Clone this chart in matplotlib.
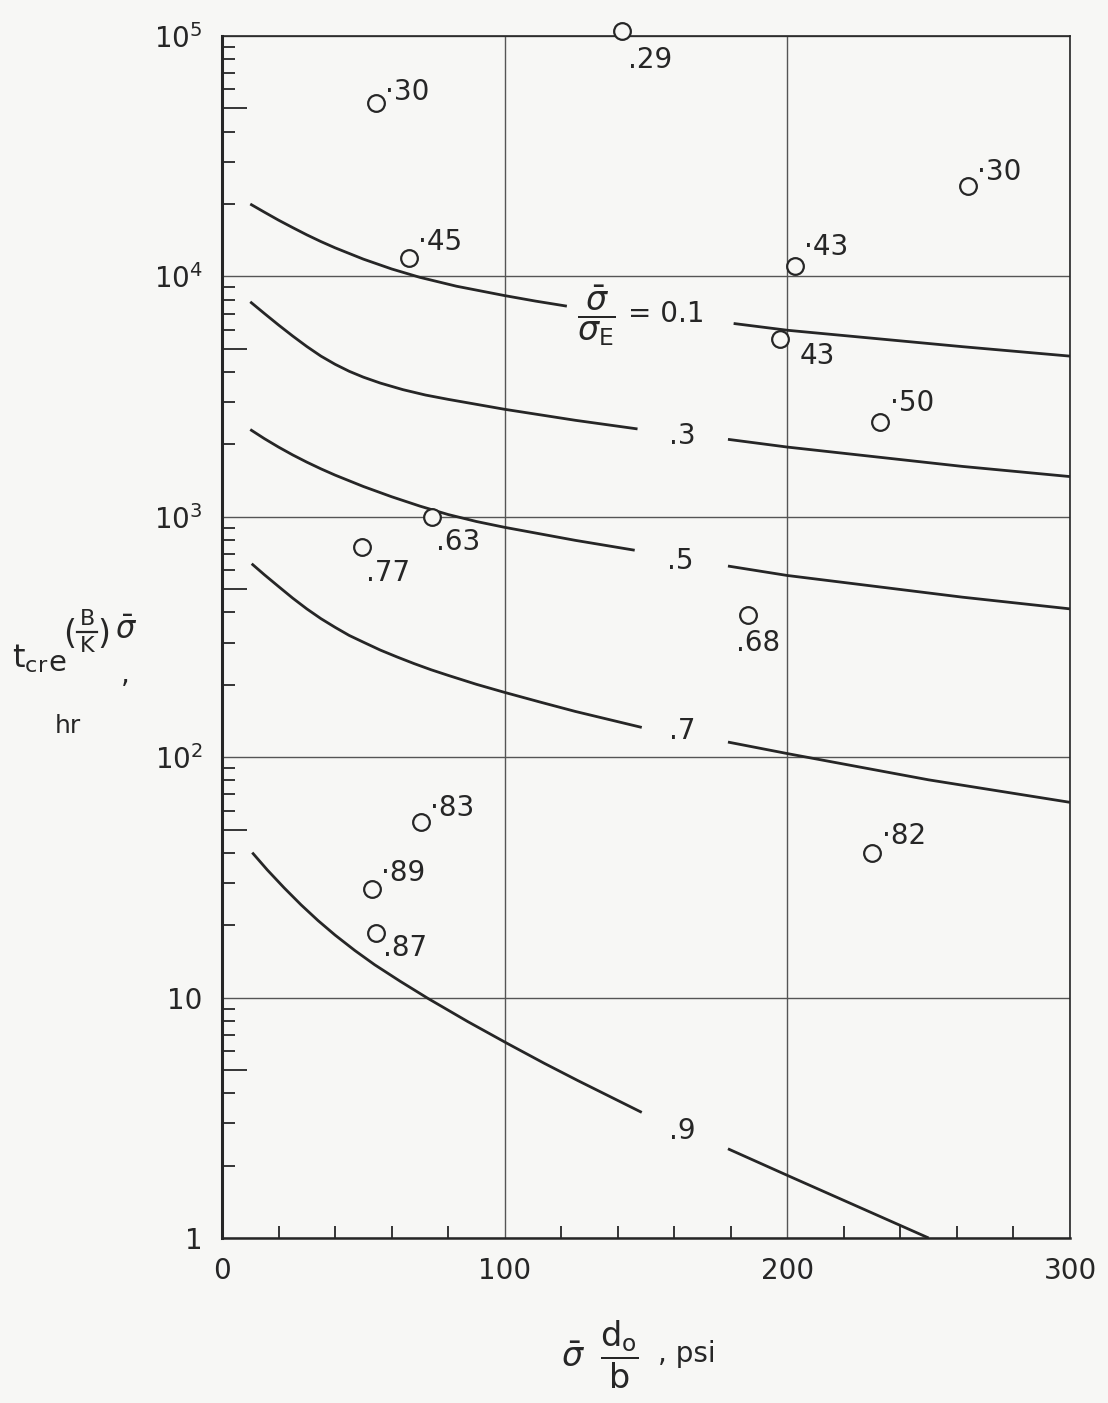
import matplotlib
matplotlib.use('Agg')
import matplotlib.pyplot as plt
import matplotlib.ticker as mticker
from matplotlib.lines import Line2D

W, H, DPI = 1108, 1403, 100

# ---- data ----
# curves for sigma/sigma_E levels (each broken where its label sits)
c01_left_x = [10, 15, 20, 25, 30, 35, 40, 50, 60, 70, 83, 100, 111, 122]
c01_left_y = [2.0e4, 1.85e4, 1.714e4, 1.596e4, 1.489e4, 1.396e4, 1.315e4, 1.18e4, 1.074e4,
              9.91e3, 9.1e3, 8.32e3, 7.89e3, 7.52e3]
c01_right_x = [181, 200, 262, 300]
c01_right_y = [6.37e3, 5.97e3, 5.1e3, 4.66e3]

c03_left_x = [10, 15, 20, 25, 30, 35, 40, 45, 50, 56, 64, 72, 80, 100, 125, 147]
c03_left_y = [7.84e3, 7.01e3, 6.28e3, 5.65e3, 5.11e3, 4.66e3, 4.31e3, 4.03e3, 3.81e3, 3.60e3,
              3.38e3, 3.21e3, 3.08e3, 2.80e3, 2.52e3, 2.32e3]
c03_right_x = [179, 200, 262, 300]
c03_right_y = [2.1e3, 1.95e3, 1.62e3, 1.47e3]

c05_left_x = [10, 15, 20, 25, 30, 35, 40, 50, 60, 70, 80, 90, 100, 125, 146]
c05_left_y = [2307, 2114, 1950, 1809, 1688, 1583, 1491, 1337, 1212, 1108, 1022, 956, 904, 798, 726]
c05_right_x = [179, 200, 262, 300]
c05_right_y = [624, 570, 463, 414]

c07_left_x = [10.5, 15, 20, 25, 30, 35, 40, 45, 50, 56, 62, 68, 74, 80, 90, 100, 113, 125, 148.5]
c07_left_y = [638, 574, 513, 459, 414, 377, 347, 321, 301, 279, 261, 245, 231, 219, 201, 186,
              169, 155, 133]
c07_right_x = [179, 201, 250, 300]
c07_right_y = [115.6, 103, 80.5, 64.9]

c09_left_x = [10.7, 16, 22, 28, 34, 40, 47, 54, 63, 73, 87, 101, 114, 126, 148.5]
c09_left_y = [40.1, 34.0, 28.6, 24.3, 20.9, 18.2, 15.7, 13.7, 11.7, 9.9, 7.94, 6.44, 5.33, 4.51, 3.33]
c09_right_x = [179, 201, 250]
c09_right_y = [2.35, 1.8, 1.0]

curve_labels = [".3", ".5", ".7", ".9"]

# test points
pts_x = [141.5, 54.5, 264, 66, 202.7, 197.4, 232.8, 74.3, 49.5, 186, 70.4, 53, 54.5, 230]
pts_y = [1.05e5, 5.25e4, 2.37e4, 1.19e4, 1.11e4, 5.5e3, 2.49e3, 1.0e3, 750, 389, 53.7, 28.2, 18.5, 39.8]
pts_lab = ['.29', '\u00b730', '\u00b730', '\u00b745', '\u00b743', '43', '\u00b750',
           '.63', '.77', '.68', '\u00b783', '\u00b789', '.87', '\u00b782']

x_ticks = [0, 100, 200, 300]
y_ticks = [1, 10, 100, 1e3, 1e4, 1e5]
y_ticklabels = ['1', '10', r'$\mathregular{10^2}$', r'$\mathregular{10^3}$',
                r'$\mathregular{10^4}$', r'$\mathregular{10^5}$']

# ---- styling ----
plt.rcParams['font.family'] = ['DejaVu Sans']
plt.rcParams['mathtext.fontset'] = 'dejavusans'
INK = '#262626'
BG = '#f7f7f5'

fig = plt.figure(figsize=(W / DPI, H / DPI), dpi=DPI, facecolor=BG)
ax = fig.add_axes([222 / W, 1 - 1238 / H, (1070 - 222) / W, (1238 - 36) / H])
ax.set_facecolor(BG)
ax.set_yscale('log')
ax.set_xlim(0, 300)
ax.set_ylim(1, 1e5)

ax.grid(True, which='major', color='#555555', lw=1.0)
ax.set_axisbelow(True)

curves = [
    (c01_left_x, c01_left_y, c01_right_x, c01_right_y),
    (c03_left_x, c03_left_y, c03_right_x, c03_right_y),
    (c05_left_x, c05_left_y, c05_right_x, c05_right_y),
    (c07_left_x, c07_left_y, c07_right_x, c07_right_y),
    (c09_left_x, c09_left_y, c09_right_x, c09_right_y),
]
for lx, ly, rx, ry in curves:
    ax.plot(lx, ly, color=INK, lw=2.0, solid_capstyle='butt', solid_joinstyle='round', zorder=3)
    ax.plot(rx, ry, color=INK, lw=2.0, solid_capstyle='butt', solid_joinstyle='round', zorder=3)

# curve labels
ax.text(132.6, 6.9e3, r"$\dfrac{\bar{\sigma}}{\sigma_{\mathregular{E}}}$", ha='center', va='center',
        fontsize=24, color=INK, zorder=4)
ax.text(143.5, 6.95e3, "= 0.1", ha='left', va='center', fontsize=20, color=INK, zorder=4)
lab_pos = [(163, 2.16e3), (162, 657), (163, 129), (163, 2.79)]
for (lx, ly), txt in zip(lab_pos, curve_labels):
    ax.text(lx, ly, txt, ha='center', va='center', fontsize=20, color=INK, zorder=4)

# points
ax.plot(pts_x, pts_y, 'o', ms=12, mfc=BG, mec=INK, mew=1.6, ls='none', zorder=5, clip_on=False)
offsets = [(6, -37), (9, 3), (9, 6), (9, 8), (9, 11), (20, -25), (10, 11),
           (4, -33), (4, -34), (-12, -36), (9, 6), (9, 8), (7, -23), (10, 9)]
for x, y, t, (dx, dy) in zip(pts_x, pts_y, pts_lab, offsets):
    ax.annotate(t, (x, y), xytext=(dx, dy), textcoords='offset pixels', annotation_clip=False,
                ha='left', va='baseline', fontsize=20, color=INK, zorder=6)

# ticks
ax.set_xticks(x_ticks)
ax.set_xticklabels([str(v) for v in x_ticks])
ax.set_yticks(y_ticks)
ax.set_yticklabels(y_ticklabels)
ax.tick_params(which='major', length=0, labelsize=20, colors=INK)
ax.tick_params(axis='x', which='major', pad=14)
ax.tick_params(axis='y', which='major', pad=14)
ax.set_xticks([v for v in range(20, 300, 20) if v % 100 != 0], minor=True)
ax.set_yticks([m * 10 ** k for k in range(5) for m in (2, 3, 4, 6, 7, 8, 9)], minor=True)
ax.tick_params(which='minor', direction='in', length=9, width=1.3, color=INK,
               labelleft=False, labelbottom=False)

# longer ticks at 5 x 10^k on a twin axis
ax2 = ax.twinx()
ax2.set_yscale('log')
ax2.set_ylim(1, 1e5)
ax2.yaxis.set_ticks_position('left')
ax2.set_yticks([5 * 10 ** k for k in range(5)])
ax2.set_yticklabels([])
ax2.yaxis.set_minor_locator(mticker.NullLocator())
ax2.tick_params(direction='in', length=18, width=1.3, color=INK)
for s in ax2.spines.values():
    s.set_visible(False)

for side, lw in [('left', 2.2), ('bottom', 1.8), ('top', 1.2), ('right', 1.2)]:
    ax.spines[side].set_linewidth(lw)
    ax.spines[side].set_color(INK)


def fx(px):
    return px / W


def fy(py):
    return 1 - py / H


# y axis title, built from pieces
fig.text(fx(12), fy(668), r"$\mathregular{t_{cr}}$", fontsize=23, color=INK, ha='left', va='baseline')
fig.text(fx(48), fy(671), "e", fontsize=21, color=INK, ha='left', va='baseline')
fig.text(fx(70), fy(634), "(", fontsize=24, color=INK, ha='center', va='center')
fig.text(fx(87), fy(619), "B", fontsize=16, color=INK, ha='center', va='center')
fig.text(fx(87), fy(646), "K", fontsize=16, color=INK, ha='center', va='center')
fig.add_artist(Line2D([fx(77), fx(97)], [fy(632), fy(632)], color=INK, lw=1.6))
fig.text(fx(104), fy(634), ")", fontsize=24, color=INK, ha='center', va='center')
fig.text(fx(126), fy(631), r"$\bar{\sigma}$", fontsize=22, color=INK, ha='center', va='center')
fig.text(fx(125), fy(683), ",", fontsize=20, color=INK, ha='center', va='baseline')
fig.text(fx(68), fy(733), "hr", fontsize=18, color=INK, ha='center', va='baseline')

# x axis title
fig.text(fx(600), fy(1355), r"$\bar{\sigma}\;\;\dfrac{\mathregular{d_o}}{\mathregular{b}}$",
         fontsize=24, color=INK, ha='center', va='center')
fig.text(fx(658), fy(1362), ", psi", fontsize=20, color=INK, ha='left', va='baseline')

fig.savefig('out.png', dpi=DPI, facecolor=BG)
